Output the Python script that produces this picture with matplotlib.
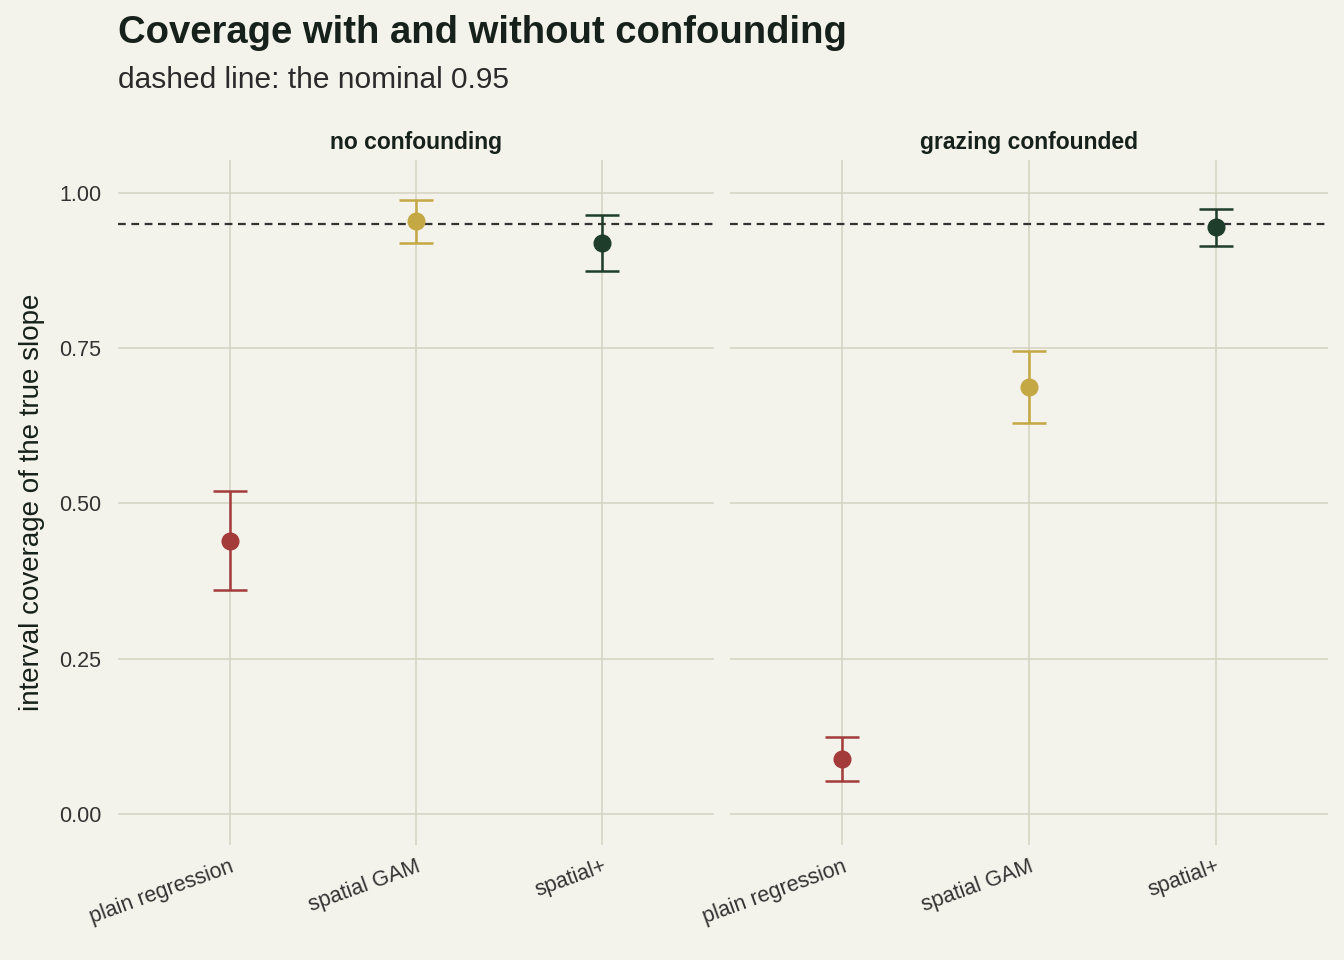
import matplotlib
matplotlib.use("Agg")
import matplotlib.pyplot as plt

plt.rcParams['font.family'] = ['Liberation Sans', 'DejaVu Sans']

methods = ["plain regression", "spatial GAM", "spatial+"]
panels = ["no confounding", "grazing confounded"]
coverage = [[0.44, 0.955, 0.92], [0.088, 0.688, 0.945]]
lower = [[0.36, 0.92, 0.875], [0.053, 0.63, 0.915]]
upper = [[0.52, 0.988, 0.965], [0.124, 0.746, 0.974]]
colors = ["#A33B3B", "#C4A843", "#1F3D2B"]
BG = "#F3F2EB"
GRID = "#D6D5C4"
INK = "#17211B"

fig = plt.figure(figsize=(13.44, 9.6), dpi=100, facecolor=BG)
axes = [fig.add_axes([118/1344, 1-845/960, 596/1344, 685/960]),
        fig.add_axes([730/1344, 1-845/960, 598/1344, 685/960])]

for i, ax in enumerate(axes):
    ax.set_facecolor(BG)
    for s in ax.spines.values():
        s.set_visible(False)
    ax.set_xlim(-0.6, 2.6)
    ax.set_ylim(-0.05, 1.053)
    ax.set_yticks([0, 0.25, 0.5, 0.75, 1.0])
    ax.grid(True, color=GRID, lw=1.2)
    ax.set_axisbelow(True)
    ax.tick_params(length=0, labelsize=15.5, colors="#333333", pad=12)
    ax.tick_params(axis="x", pad=8)
    ax.set_xticks(range(3))
    ax.set_xticklabels(methods, rotation=20, ha="right", rotation_mode="anchor")
    ax.axhline(0.95, color="#333333", ls=(0, (3.5, 2.5)), lw=1.6, zorder=2)
    for j in range(3):
        c = coverage[i][j]
        ax.errorbar(j, c, yerr=[[c - lower[i][j]], [upper[i][j] - c]],
                    fmt="o", color=colors[j], ms=12, capsize=12, capthick=1.8,
                    elinewidth=1.8, zorder=3)
    ax.set_title(panels[i], fontsize=16.5, fontweight="bold", color=INK, pad=8)
    if i == 0:
        ax.set_yticklabels(["0.00", "0.25", "0.50", "0.75", "1.00"])
        ax.set_ylabel("interval coverage of the true slope", fontsize=20,
                      color=INK, labelpad=10)
    else:
        ax.set_yticklabels([])

fig.text(118/1344, 1-33/960, "Coverage with and without confounding",
         fontsize=27.5, fontweight="bold", color=INK, va="center")
fig.text(118/1344, 1-80/960, "dashed line: the nominal 0.95",
         fontsize=21.5, color="#2A2A2A", va="center")

fig.savefig("out.png", dpi=100, facecolor=BG)
